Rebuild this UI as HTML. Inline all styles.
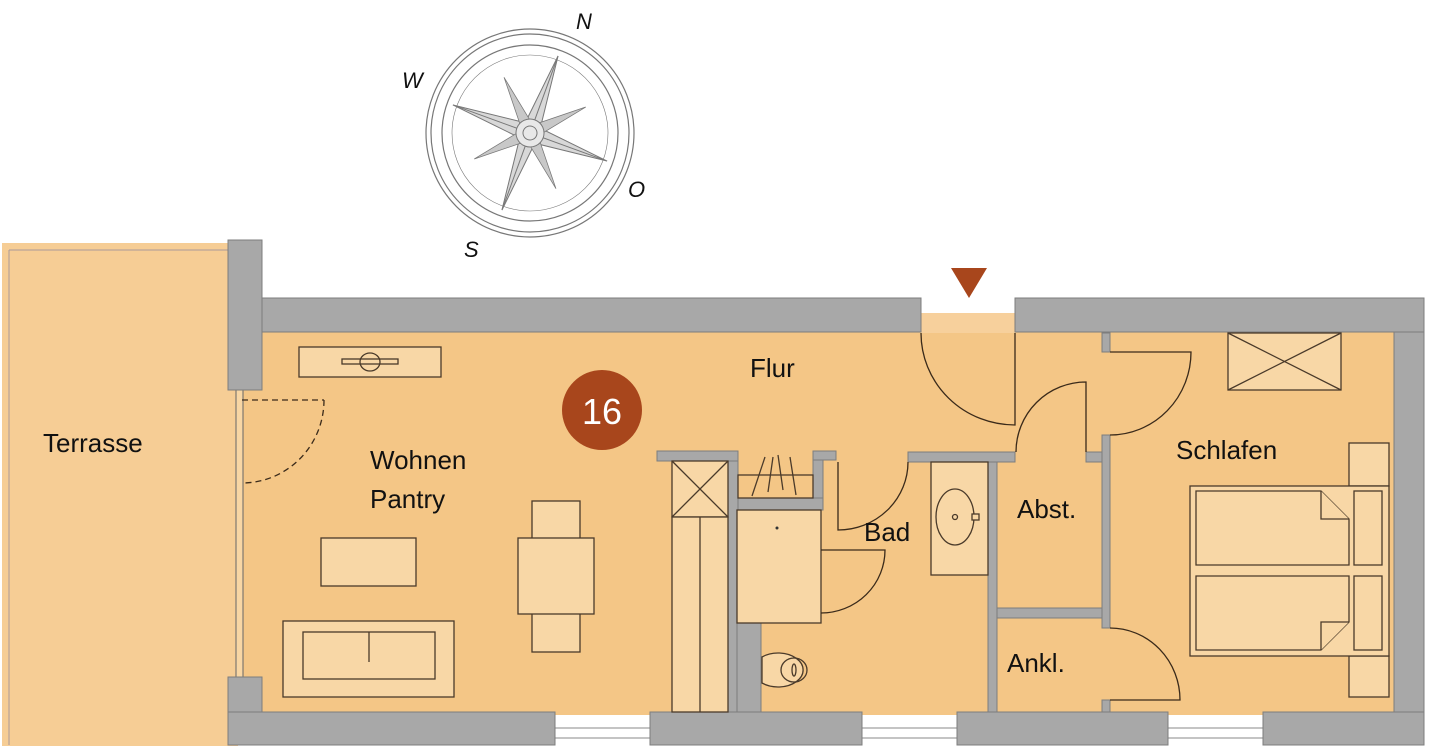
<!DOCTYPE html>
<html><head><meta charset="utf-8"><style>
html,body{margin:0;padding:0;background:#fff}
svg{display:block}
text{font-family:"Liberation Sans",sans-serif;fill:#111}
</style></head><body>
<svg width="1440" height="749" viewBox="0 0 1440 749" xmlns="http://www.w3.org/2000/svg">
<!-- terrace -->
<rect x="2" y="243" width="236" height="503" fill="#f6cd95"/>
<line x1="9" y1="250" x2="9" y2="745" stroke="#a99" stroke-width="1"/>
<line x1="9" y1="250" x2="228" y2="250" stroke="#a99" stroke-width="1"/>
<text x="43" y="452" font-size="26">Terrasse</text>
<!-- floor -->
<rect x="240" y="330" width="1160" height="385" fill="#f4c686"/>
<rect x="921" y="313" width="94" height="20" fill="#f7d09c"/>
<!-- windows bottom -->
<g fill="#fff" stroke="#888" stroke-width="1">
<rect x="555" y="728" width="95" height="10"/><rect x="862" y="728" width="95" height="10"/><rect x="1168" y="728" width="95" height="10"/>
</g>
<!-- glass door -->
<rect x="236" y="390" width="7" height="287" fill="#f8d6a4" stroke="#666" stroke-width="1"/>
<!-- walls -->
<g fill="#a8a8a8" stroke="#7d7d7d" stroke-width="1">
<rect x="228" y="240" width="34" height="150"/>
<rect x="228" y="677" width="34" height="68"/>
<rect x="262" y="298" width="659" height="34"/>
<rect x="1015" y="298" width="409" height="34"/>
<rect x="1394" y="332" width="30" height="413"/>
<rect x="228" y="712" width="327" height="33"/>
<rect x="650" y="712" width="212" height="33"/>
<rect x="957" y="712" width="211" height="33"/>
<rect x="1263" y="712" width="161" height="33"/>
<rect x="657" y="451" width="81" height="10"/>
<rect x="728" y="461" width="10" height="251"/>
<rect x="738" y="498" width="85" height="12"/>
<rect x="813" y="451" width="10" height="47"/>
<rect x="813" y="451" width="23" height="9"/>
<rect x="737" y="623" width="24" height="89"/>
<rect x="908" y="452" width="107" height="10"/>
<rect x="988" y="462" width="9" height="250"/>
<rect x="1086" y="452" width="16" height="10"/>
<rect x="1102" y="333" width="8" height="19"/>
<rect x="1102" y="435" width="8" height="193"/>
<rect x="997" y="608" width="105" height="10"/>
<rect x="1102" y="700" width="8" height="12"/>
</g>
<line x1="1428" y1="300" x2="1428" y2="745" stroke="#fff" stroke-width="3"/>
<!-- furniture -->
<g fill="#f8d7a6" stroke="#4a3a2a" stroke-width="1.3">
<rect x="299" y="347" width="142" height="30"/>
<rect x="342" y="359" width="56" height="5"/>
<ellipse cx="370" cy="362" rx="10" ry="9" fill="none"/>
<rect x="321" y="538" width="95" height="48"/>
<rect x="532" y="501" width="48" height="151"/>
<rect x="518" y="538" width="76" height="76"/>
<rect x="283" y="621" width="171" height="76"/>
<rect x="303" y="632" width="132" height="47"/>
<line x1="369" y1="632" x2="369" y2="662"/>
<rect x="672" y="461" width="56" height="56"/>
<line x1="672" y1="461" x2="728" y2="517"/><line x1="728" y1="461" x2="672" y2="517"/>
<rect x="672" y="517" width="56" height="195"/>
<line x1="700" y1="517" x2="700" y2="712"/>
<rect x="738" y="475" width="75" height="23" fill="none"/>
<line x1="752" y1="496" x2="765" y2="457"/><line x1="768" y1="492" x2="773" y2="457"/><line x1="783" y1="490" x2="778" y2="455"/><line x1="796" y1="495" x2="790" y2="457"/>
<rect x="737" y="510" width="84" height="113"/>
<rect x="931" y="462" width="57" height="113"/>
<ellipse cx="955" cy="517" rx="19" ry="28"/>
<circle cx="955" cy="517" r="2.5"/>
<rect x="972" y="514" width="7" height="6"/>
<rect x="1228" y="333" width="113" height="57"/>
<line x1="1228" y1="333" x2="1341" y2="390"/><line x1="1341" y1="333" x2="1228" y2="390"/>
<rect x="1349" y="443" width="40" height="43"/>
<rect x="1349" y="656" width="40" height="41"/>
<rect x="1190" y="486" width="199" height="170"/>
<path d="M1196 491 H1321 L1349 519 V565 H1196 Z"/>
<path d="M1321 491 V519 H1349"/>
<path d="M1196 576 H1349 V622 L1321 650 H1196 Z"/>
<path d="M1321 650 V622 H1349"/>
<rect x="1354" y="491" width="28" height="74"/>
<rect x="1354" y="576" width="28" height="74"/>
<path d="M762 657 A25 17 0 1 1 762 683 Z"/>
<ellipse cx="794" cy="670" rx="13" ry="12" fill="none"/>
<ellipse cx="794" cy="670" rx="2" ry="6" fill="none"/>
</g>
<circle cx="777" cy="528" r="1.5" fill="#333"/>
<!-- doors -->
<g fill="none" stroke="#3a2a1a" stroke-width="1.3">
<path d="M242 400 H324" stroke-dasharray="6 4"/>
<path d="M324 400 A82 83 0 0 1 242 483" stroke-dasharray="6 4"/>
<path d="M921 333 A94 92 0 0 0 1015 425 V333"/>
<path d="M1110 352 H1191 A81 83 0 0 1 1110 435"/>
<path d="M1086 452 V382 A70 70 0 0 0 1016 452"/>
<path d="M908 462 A70 68 0 0 1 838 530 V462"/>
<path d="M821 550 H885 A64 63 0 0 1 821 613"/>
<path d="M1110 628 A70 72 0 0 1 1180 700 H1110"/>
</g>
<!-- labels -->
<text x="750" y="377" font-size="26">Flur</text>
<text x="370" y="469" font-size="26">Wohnen</text>
<text x="370" y="508" font-size="26">Pantry</text>
<text x="864" y="541" font-size="26">Bad</text>
<text x="1017" y="518" font-size="26">Abst.</text>
<text x="1007" y="672" font-size="26">Ankl.</text>
<text x="1176" y="459" font-size="26">Schlafen</text>
<ellipse cx="602" cy="410" rx="40" ry="40" fill="#a8461c"/>
<text x="602" y="424" font-size="36" text-anchor="middle" style="fill:#fff">16</text>
<polygon points="951,268 987,268 969,298" fill="#a8461c"/>
<!-- compass -->
<g fill="none" stroke="#777" stroke-width="1.2">
<circle cx="530" cy="133" r="104"/>
<circle cx="530" cy="133" r="99"/>
<circle cx="530" cy="133" r="88"/>
<circle cx="530" cy="133" r="78" stroke-width="0.6"/>
</g>
<g transform="translate(530,133) rotate(20)" stroke="#777" stroke-width="1">
<polygon points="0,-82 8,-8 82,0 8,8 0,82 -8,8 -82,0 -8,-8" fill="#d8d8d8"/>
<polygon points="0,-82 8,-8 82,0 8,8 0,82 -8,8 -82,0 -8,-8" fill="#c8c8c8" transform="rotate(45) scale(0.75)"/>
<line x1="0" y1="-82" x2="0" y2="82"/><line x1="-82" y1="0" x2="82" y2="0"/>
<circle cx="0" cy="0" r="14" fill="#e8e8e8"/>
<circle cx="0" cy="0" r="7" fill="none"/>
</g>
<g font-size="22" font-style="italic" style="fill:#222">
<text x="576" y="29">N</text>
<text x="402" y="88">W</text>
<text x="628" y="197">O</text>
<text x="464" y="257">S</text>
</g>
</svg>
</body></html>
